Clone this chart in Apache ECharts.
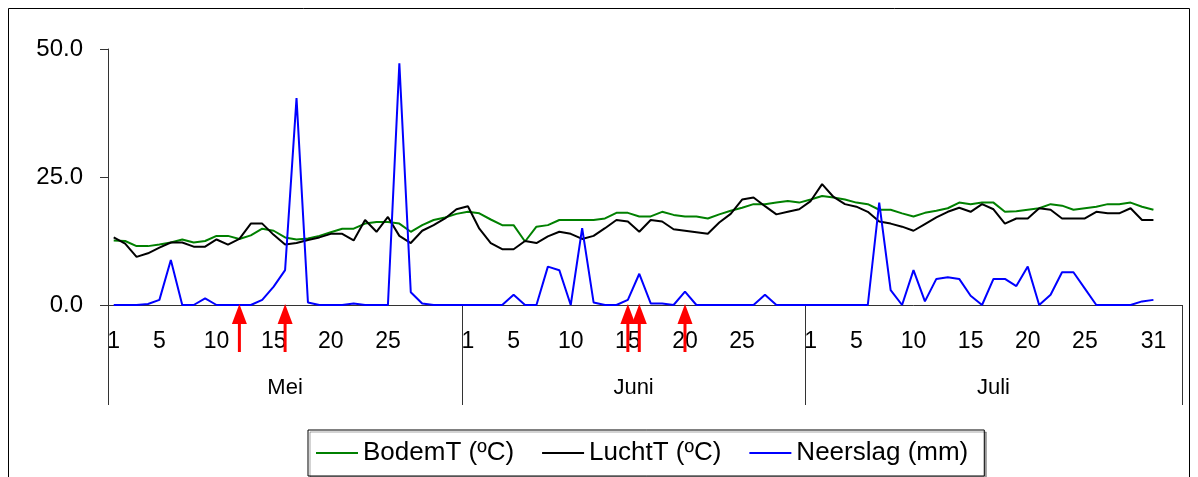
<!DOCTYPE html>
<html><head><meta charset="utf-8">
<script src="https://cdn.jsdelivr.net/npm/echarts@6/dist/echarts.min.js"></script>
<style>html,body{margin:0;padding:0;background:#fff}#c{width:1198px;height:477px}</style>
</head><body><div id="c"></div>
<script>
// ---- data ----
const months = ['Mei', 'Juni', 'Juli'];
const monthSlots = [31, 30, 33];            // Juli group carries two empty slots at the end
const dayTickLabels = [[1,5,10,15,20,25],[1,5,10,15,20,25],[1,5,10,15,20,25,31]];
const yTicks = [0, 25, 50];

const bodemMei  = [12.6,12.5,11.5,11.5,11.8,12.2,12.8,12.2,12.5,13.5,13.5,12.9,13.6,14.9,14.5,13.2,12.8,13.0,13.5,14.2,14.9,14.9,15.9,16.2,16.2,15.9,14.3,15.6,16.6,17.1,17.8];
const bodemJuni = [18.2,17.9,16.7,15.6,15.6,12.4,15.3,15.6,16.6,16.6,16.6,16.6,16.9,18.0,18.0,17.3,17.3,18.2,17.6,17.3,17.3,16.9,17.7,18.4,19.0,19.7,19.7,20.0,20.3,20.0];
const bodemJuli = [20.6,21.3,21.0,20.6,20.0,19.7,18.6,18.6,17.9,17.3,18.0,18.4,18.9,20.0,19.7,20.0,20.0,18.2,18.3,18.6,18.9,19.7,19.4,18.6,18.9,19.2,19.7,19.7,20.0,19.2,18.6];

const luchtMei  = [13.2,12.0,9.4,10.1,11.2,12.2,12.2,11.4,11.4,12.8,11.8,12.9,15.9,15.9,13.7,11.8,12.1,12.7,13.2,13.9,13.9,12.6,16.6,14.3,17.2,13.5,12.1,14.5,15.6,16.9,18.7];
const luchtJuni = [19.3,14.9,12.1,10.9,10.9,12.5,12.1,13.4,14.3,13.9,12.9,13.5,15.0,16.6,16.3,14.3,16.6,16.3,14.8,14.5,14.2,13.9,16.1,17.8,20.6,21.0,19.3,17.7,18.2,18.7];
const luchtJuli = [20.3,23.6,21.1,19.7,19.2,18.2,16.3,15.9,15.3,14.5,15.8,17.1,18.2,19.0,18.2,19.7,18.7,15.9,16.9,16.9,18.9,18.6,16.9,16.9,16.9,18.2,17.9,17.9,18.9,16.6,16.6];

const neerMei  = [0,0,0,0.2,1.0,8.8,0,0,1.3,0,0,0,0,1.0,3.6,6.8,40.4,0.5,0,0,0,0.3,0,0,0,47.2,2.5,0.3,0,0,0];
const neerJuni = [0,0,0,0,2.0,0,0,7.5,6.8,0,15.0,0.5,0,0,1.0,6.1,0.3,0.3,0,2.6,0,0,0,0,0,0,2.0,0,0,0];
const neerJuli = [0,0,0,0,0,0,20.0,2.9,0,6.8,0.7,5.1,5.4,5.1,1.8,0,5.1,5.1,3.7,7.5,0,2.0,6.4,6.4,3.2,0,0,0,0,0.7,1.0];

const arrowDays = [['Mei',12],['Mei',16],['Juni',15],['Juni',16],['Juni',20]];
const seriesNames = ['BodemT (ºC)', 'LuchtT (ºC)', 'Neerslag (mm)'];

// ---- build ----
const categories = [], catLabels = [];
months.forEach((m, mi) => {
  for (let d = 1; d <= monthSlots[mi]; d++) {
    categories.push(m + '-' + d);
    catLabels.push(dayTickLabels[mi].includes(d) ? String(d) : '');
  }
});
function pad(arrs) {
  const out = [];
  arrs.forEach((a, mi) => { for (let i = 0; i < monthSlots[mi]; i++) out.push(i < a.length ? a[i] : null); });
  return out;
}
const bodem = pad([bodemMei, bodemJuni, bodemJuli]);
const lucht = pad([luchtMei, luchtJuni, luchtJuli]);
const neer  = pad([neerMei, neerJuni, neerJuli]);
const total = categories.length;
const bounds = [0], centers = [];
monthSlots.forEach((n, i) => { centers.push(bounds[i] + n / 2); bounds.push(bounds[i] + n); });
const arrowData = arrowDays.map(([m, d]) => [categories.indexOf(m + '-' + d), 0]);

const FONT = 'Liberation Sans, Arial, sans-serif';
const AX = '#333';
const gridRect = { left: 108, right: 16, top: 49, bottom: 172, outerBoundsMode: 'none' };

const chart = echarts.init(document.getElementById('c'), null, { renderer: 'canvas' });
chart.setOption({
  animation: false,
  backgroundColor: '#fff',
  textStyle: { fontFamily: FONT },
  graphic: [{
    type: 'rect', shape: { x: 8.5, y: 8.5, width: 1181, height: 480 },
    style: { fill: 'none', stroke: '#000', lineWidth: 1 }, silent: true, z: -1
  }],
  grid: [Object.assign({}, gridRect), Object.assign({}, gridRect)],
  legend: {
    data: seriesNames,
    left: 308, top: 430,
    icon: 'rect', itemWidth: 42, itemHeight: 2, itemGap: 28,
    padding: [9, 16, 9, 8],
    borderColor: '#000', borderWidth: 1, backgroundColor: '#fff',
    shadowColor: 'rgba(0,0,0,0.35)', shadowOffsetX: 2, shadowOffsetY: 2, shadowBlur: 0,
    textStyle: { fontFamily: FONT, fontSize: 26, color: '#000', lineHeight: 28 }
  },
  xAxis: [{
    type: 'category', gridIndex: 0, data: categories, boundaryGap: true,
    axisLine: { lineStyle: { color: AX, width: 1 } },
    axisTick: { show: false },
    axisLabel: { interval: 0, formatter: (v, i) => catLabels[i], fontSize: 23, color: '#000', margin: 25, fontFamily: FONT },
    splitLine: { show: false }
  }, {
    type: 'value', gridIndex: 1, min: 0, max: total, position: 'bottom',
    axisLine: { show: false },
    axisTick: { show: true, customValues: bounds, length: 100, lineStyle: { color: AX, width: 1 } },
    axisLabel: { customValues: centers, formatter: v => months[centers.indexOf(v)] || '', fontSize: 22, color: '#000', margin: 72, fontFamily: FONT },
    splitLine: { show: false }
  }],
  yAxis: [{
    type: 'value', gridIndex: 0, min: yTicks[0], max: yTicks[yTicks.length - 1], interval: yTicks[1] - yTicks[0],
    axisLine: { show: true, lineStyle: { color: AX, width: 1 } },
    axisTick: { show: true, length: 8, lineStyle: { color: AX } },
    axisLabel: { formatter: v => v.toFixed(1), fontSize: 24, color: '#000', margin: 25, fontFamily: FONT },
    splitLine: { show: false }
  }, {
    type: 'value', gridIndex: 1, min: 0, max: 50, show: false
  }],
  series: [
    { name: seriesNames[0], type: 'line', data: bodem, symbol: 'none', lineStyle: { color: '#008000', width: 2 }, itemStyle: { color: '#008000' }, z: 2 },
    { name: seriesNames[1], type: 'line', data: lucht, symbol: 'none', lineStyle: { color: '#000000', width: 2 }, itemStyle: { color: '#000000' }, z: 3 },
    { name: seriesNames[2], type: 'line', data: neer, symbol: 'none', lineStyle: { color: '#0000ff', width: 2 }, itemStyle: { color: '#0000ff' }, z: 4 },
    {
      name: 'pijlen', type: 'custom', data: arrowData, encode: { x: 0, y: 1 }, clip: false, z: 10, silent: true,
      renderItem: (params, api) => {
        const p = api.coord([api.value(0), api.value(1)]);
        const x = p[0], y = p[1];
        return { type: 'group', children: [
          { type: 'line', shape: { x1: x, y1: y + 16, x2: x, y2: y + 47 }, style: { stroke: '#ff0000', lineWidth: 3 } },
          { type: 'polygon', shape: { points: [[x, y - 1], [x - 7.5, y + 19], [x + 7.5, y + 19]] }, style: { fill: '#ff0000' } }
        ] };
      }
    }
  ]
});
</script></body></html>
